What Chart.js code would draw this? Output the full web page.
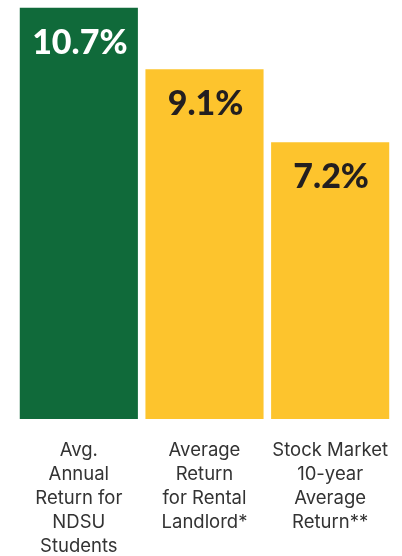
<!doctype html>
<html>
<head>
    <meta charset="UTF-8"/>
    <title>Returns</title>
    <script src="https://cdn.jsdelivr.net/npm/chart.js@4.4.1/dist/chart.umd.min.js"></script>
</head>
<body style="margin: 0; background: #fff;">
<div style="width: 402px; height: 556px; position: relative;">
    <canvas id="myChart"></canvas>
</div>

<script>
    // chart values
    let labels = [
        ['Avg.', 'Annual', 'Return for', 'NDSU', 'Students'],
        ['Average', 'Return', 'for Rental', 'Landlord*'],
        ['Stock Market', '10-year', 'Average', 'Return**']
    ];
    let returns = [10.7, 9.1, 7.2];
    let valueText = ['10.7%', '9.1%', '7.2%'];
    let barColors = ['#106a3a', '#fdc42d', '#fdc42d'];
    let valueColors = ['#ffffff', '#231f20', '#231f20'];

    // draws the big percentage inside each bar
    const valueLabels = {
        id: 'valueLabels',
        afterDatasetsDraw(chart) {
            const ctx = chart.ctx;
            const meta = chart.getDatasetMeta(0);
            ctx.save();
            ctx.font = '900 34px Lato';
            ctx.textAlign = 'center';
            ctx.textBaseline = 'middle';
            meta.data.forEach((bar, i) => {
                ctx.fillStyle = valueColors[i];
                ctx.fillText(valueText[i], bar.x + 1, bar.y + 35);
            });
            ctx.restore();
        }
    };

    var ctx = document.getElementById('myChart').getContext('2d');
    var myChart = new Chart(ctx, {
        type: 'bar',
        data: {
            labels  : labels,
            datasets: [
                {
                    data              : returns,
                    backgroundColor   : barColors,
                    borderWidth       : 0,
                    barPercentage     : 0.94,
                    categoryPercentage: 1.0,
                }
            ]
        },
        options: {
            responsive         : true,
            maintainAspectRatio: false,
            animation          : false,
            layout             : {padding: {left: 16, right: 9, top: 0, bottom: 0}},
            plugins            : {legend: {display: false}, tooltip: {enabled: false}},
            scales             : {
                x: {
                    grid    : {display: false},
                    border  : {display: false},
                    afterFit: (scale) => { scale.height = 137; },
                    ticks   : {
                        color      : '#333333',
                        padding    : 11,
                        maxRotation: 0,
                        autoSkip   : false,
                        font       : {family: 'Inter', size: 18.5, lineHeight: 1.3}
                    }
                },
                y: {
                    display: false,
                    min    : 0,
                    max    : 10.9
                }
            }
        },
        plugins: [valueLabels]
    });
</script>
</body>
</html>
